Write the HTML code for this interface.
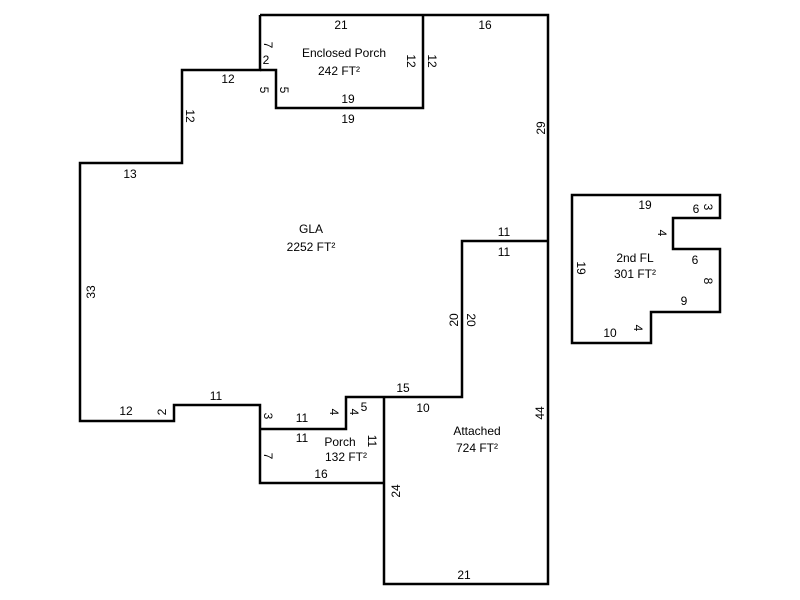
<!DOCTYPE html>
<html><head><style>body{margin:0;background:#fff}svg{display:block}text{font-family:"Liberation Sans",Arial,sans-serif;font-size:12px;fill:#000}</style></head><body>
<svg width="800" height="600" viewBox="0 0 800 600">
<g fill="none" stroke="#000" stroke-width="2.5" stroke-linejoin="miter">
<path d="M260,15 H548 V584 H384 V397"/>
<path d="M260,15 V70 H182 V163 H80 V421 H174 V405 H260 V483 H384"/>
<path d="M260,429 H346 V397 H462 V241 H548"/>
<path d="M260,70 H276 V108 H423 V15"/>
<path d="M572,195 H720 V218 H673 V249 H720 V312 H651 V343 H572 Z"/>
</g>
<g text-anchor="middle">
<text x="341" y="29">21</text>
<text x="485" y="29">16</text>
<text x="344" y="57">Enclosed Porch</text>
<text x="339" y="75">242 FT²</text>
<text x="266" y="64">2</text>
<text x="228" y="83">12</text>
<text x="348" y="103">19</text>
<text x="348" y="123">19</text>
<text x="130" y="178">13</text>
<text x="311" y="233">GLA</text>
<text x="311" y="251">2252 FT²</text>
<text x="504" y="236">11</text>
<text x="504" y="256">11</text>
<text x="645" y="209">19</text>
<text x="696" y="213">6</text>
<text x="695" y="264">6</text>
<text x="635" y="262">2nd FL</text>
<text x="635" y="278">301 FT²</text>
<text x="684" y="305">9</text>
<text x="610" y="337">10</text>
<text x="216" y="400">11</text>
<text x="126" y="415">12</text>
<text x="403" y="392">15</text>
<text x="302" y="422">11</text>
<text x="423" y="412">10</text>
<text x="364" y="411">5</text>
<text x="302" y="442">11</text>
<text x="340" y="446">Porch</text>
<text x="346" y="461">132 FT²</text>
<text x="477" y="435">Attached</text>
<text x="477" y="452">724 FT²</text>
<text x="321" y="478">16</text>
<text x="464" y="579">21</text>
</g>
<g text-anchor="middle">
<text transform="translate(264,45) rotate(90)">7</text>
<text transform="translate(260,90) rotate(90)">5</text>
<text transform="translate(280,90) rotate(90)">5</text>
<text transform="translate(407,61) rotate(90)">12</text>
<text transform="translate(428,61) rotate(90)">12</text>
<text transform="translate(186,116) rotate(90)">12</text>
<text transform="translate(545,128) rotate(-90)">29</text>
<text transform="translate(95,292) rotate(-90)">33</text>
<text transform="translate(458,320) rotate(-90)">20</text>
<text transform="translate(467,320) rotate(90)">20</text>
<text transform="translate(577,268) rotate(90)">19</text>
<text transform="translate(658,233) rotate(90)">4</text>
<text transform="translate(704,281) rotate(90)">8</text>
<text transform="translate(704,207) rotate(90)">3</text>
<text transform="translate(634,328) rotate(90)">4</text>
<text transform="translate(166,412) rotate(-90)">2</text>
<text transform="translate(264,416) rotate(90)">3</text>
<text transform="translate(330,412) rotate(90)">4</text>
<text transform="translate(350,412) rotate(90)">4</text>
<text transform="translate(368,441) rotate(90)">11</text>
<text transform="translate(264,456) rotate(90)">7</text>
<text transform="translate(400,491) rotate(-90)">24</text>
<text transform="translate(544,413) rotate(-90)">44</text>
</g>
</svg>
</body></html>
